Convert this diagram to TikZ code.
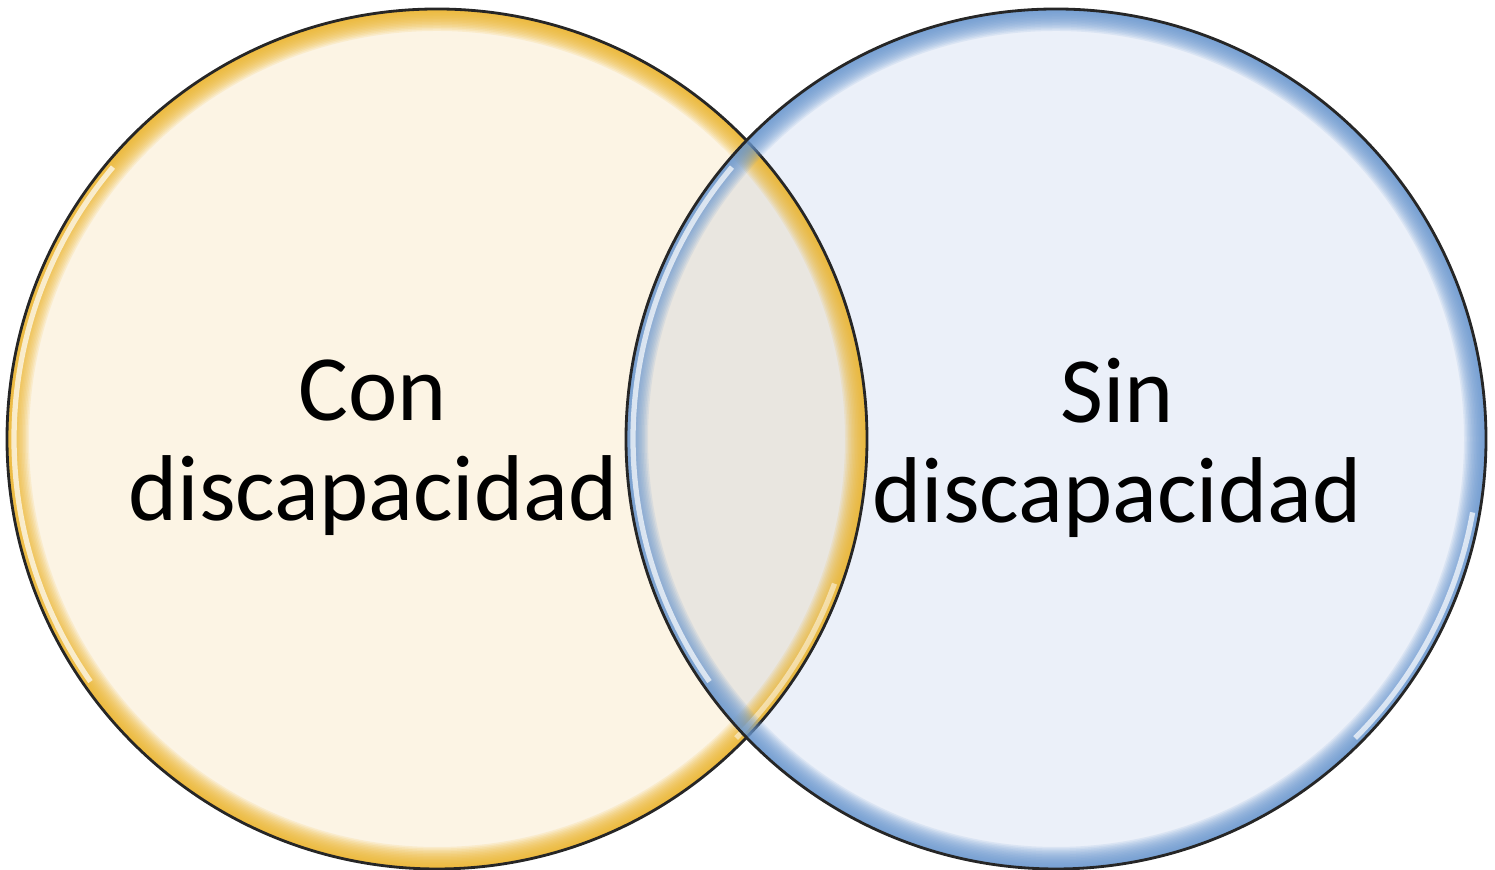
\documentclass[tikz,border=0pt]{standalone}
\usepackage{fontspec}
\setmainfont{Carlito}
\usepackage{xcolor}
\definecolor{cream}{HTML}{FCF4E4}
\definecolor{skyfill}{HTML}{EBF0F9}
\definecolor{overlap}{HTML}{E9E6E0}
\definecolor{gold}{HTML}{EDB52A}
\definecolor{steel}{HTML}{6A98D0}

\tikzset{
  rim/.style={line width=#1, opacity=0.13},
  shine/.style={white, line width=1.5pt, opacity=0.7},
  vennlabel/.style={font=\fontsize{26.6}{28.45}\selectfont, align=center, inner sep=0pt}
}

\begin{document}
\begin{tikzpicture}
    \useasboundingbox (0,0) rectangle (14.95,8.70);
    \coordinate (lc) at (4.37,4.31);
    \coordinate (rc) at (10.56,4.31);
    % fills
    \fill[cream] (lc) circle (4.30);
    \fill[skyfill] (rc) circle (4.30);
    \begin{scope}
        \clip (lc) circle (4.30);
        \fill[overlap] (rc) circle (4.30);
    \end{scope}
    % golden rim
    \begin{scope}
        \clip (lc) circle (4.30);
        \foreach \w in {0.02,0.05,...,0.44}
            \draw[gold, rim=\w cm] (lc) circle (4.30);
        \draw[shine] (lc) ++(140:4.23) arc (140:215:4.23);
        \draw[shine, opacity=0.5] (lc) ++(-45:4.23) arc (-45:-20:4.23);
    \end{scope}
    \draw[line width=0.8pt, black!85] (lc) circle (4.30);
    % blue rim
    \begin{scope}
        \clip (rc) circle (4.30);
        \foreach \w in {0.02,0.05,...,0.44}
            \draw[steel, rim=\w cm] (rc) circle (4.30);
        \draw[shine] (rc) ++(140:4.23) arc (140:215:4.23);
        \draw[shine] (rc) ++(-45:4.23) arc (-45:-10:4.23);
    \end{scope}
    \draw[line width=0.8pt, black!85] (rc) circle (4.30);
    % labels
    \node[vennlabel] (con) at (3.73,4.22) {Con\\discapacidad};
    \node[vennlabel] (sin) at (11.17,4.22) {Sin\\discapacidad};
\end{tikzpicture}
\end{document}
